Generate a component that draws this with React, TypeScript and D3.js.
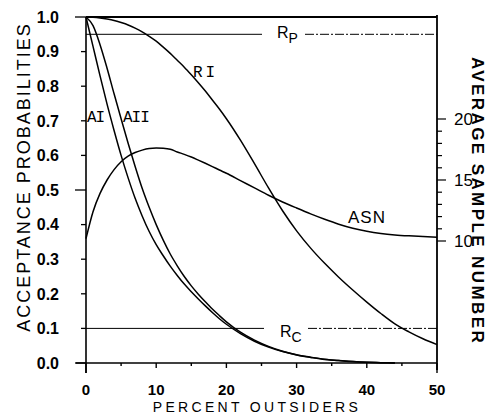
import React, { useRef, useEffect } from "react";
import * as d3 from "d3";

// percent outsiders (x) shared by all curves
const pctGrid = [
  0, 1, 2, 3, 4, 5, 6, 7, 8, 9, 10, 11, 12, 13, 14, 15, 16, 17, 18, 19, 20,
  22, 24, 26, 28, 30, 32, 34, 36, 38, 40, 42, 44, 46, 48, 50,
];

// acceptance probabilities
const riProb = [
  1.0, 0.999, 0.997, 0.994, 0.99, 0.984, 0.977, 0.968, 0.957, 0.944, 0.93,
  0.913, 0.895, 0.875, 0.855, 0.833, 0.81, 0.786, 0.76, 0.734, 0.706, 0.644,
  0.576, 0.506, 0.44, 0.382, 0.332, 0.288, 0.248, 0.211, 0.176, 0.143, 0.113,
  0.09, 0.07, 0.053,
];
const aiProb = [
  1.0, 0.915, 0.83, 0.748, 0.672, 0.6, 0.535, 0.476, 0.425, 0.38, 0.342, 0.31,
  0.28, 0.253, 0.228, 0.206, 0.185, 0.165, 0.146, 0.128, 0.112, 0.085, 0.063,
  0.046, 0.033, 0.023, 0.016, 0.01, 0.007, 0.004, 0.002, 0.001, 0.0,
];
const aiiProb = [
  1.0, 0.975, 0.92, 0.852, 0.778, 0.706, 0.635, 0.568, 0.505, 0.45, 0.4, 0.355,
  0.315, 0.281, 0.25, 0.223, 0.199, 0.177, 0.156, 0.137, 0.119, 0.089, 0.066,
  0.048, 0.034, 0.024, 0.017, 0.011, 0.007, 0.004, 0.002, 0.001, 0.0,
];

// average sample number (right axis)
const asnValues = [
  10.2, 12.4, 13.9, 15.0, 15.85, 16.5, 16.95, 17.25, 17.45, 17.58, 17.62, 17.6,
  17.52, 17.3, 17.1, 16.88, 16.63, 16.37, 16.1, 15.82, 15.55, 14.95, 14.35,
  13.75, 13.2, 12.7, 12.22, 11.78, 11.38, 11.05, 10.8, 10.62, 10.5, 10.42,
  10.36, 10.3,
];

const rpLevel = 0.95;
const rcLevel = 0.1;

const xTicks = [0, 10, 20, 30, 40, 50];
const xMinorTicks = [0, 5, 10, 15, 20, 25, 30, 35, 40, 45, 50];
const probTicks = [0, 0.1, 0.2, 0.3, 0.4, 0.5, 0.6, 0.7, 0.8, 0.9, 1.0];
const asnTicks = [10, 15, 20];
const asnMinorTicks = [10, 11, 12, 13, 14, 15, 16, 17, 18, 19, 20];

export default function App() {
  const svgRef = useRef<SVGSVGElement | null>(null);

  useEffect(() => {
    const svg = d3.select(svgRef.current);
    svg.selectAll("*").remove();

    const left = 86;
    const right = 437;
    const top = 17;
    const bottom = 363;

    const x = d3.scaleLinear().domain([0, 50]).range([left, right]);
    const y = d3.scaleLinear().domain([0, 1]).range([bottom, top]);
    const yAsn = d3.scaleLinear().domain([0, 28.36]).range([bottom, top]);

    const g = svg.append("g").attr("stroke", "#000").attr("fill", "none");

    // frame
    g.append("line").attr("x1", left).attr("x2", left).attr("y1", top).attr("y2", bottom + 10).attr("stroke-width", 1.6);
    g.append("line").attr("x1", left - 10).attr("x2", right).attr("y1", bottom).attr("y2", bottom).attr("stroke-width", 1.6);
    g.append("line").attr("x1", left).attr("x2", right).attr("y1", top).attr("y2", top).attr("stroke-width", 2);
    g.append("line").attr("x1", right).attr("x2", right).attr("y1", top - 2).attr("y2", bottom + 7).attr("stroke-width", 1.8);

    // left ticks
    probTicks.forEach((v) => {
      const major = v === 0 || v === 0.5 || v === 1;
      g.append("line")
        .attr("x1", left - (major ? 11 : 5))
        .attr("x2", left)
        .attr("y1", y(v))
        .attr("y2", y(v))
        .attr("stroke-width", 1.3);
    });

    // bottom ticks
    xMinorTicks.forEach((v) => {
      const len = v === 0 || v === 50 ? 10 : v % 10 === 0 ? 5 : 3;
      g.append("line")
        .attr("x1", x(v))
        .attr("x2", x(v))
        .attr("y1", bottom)
        .attr("y2", bottom + len)
        .attr("stroke-width", 1.4);
    });

    // right ticks (ASN)
    asnMinorTicks.forEach((v) => {
      const major = asnTicks.includes(v);
      g.append("line")
        .attr("x1", right)
        .attr("x2", right + (major ? 9 : 5))
        .attr("y1", yAsn(v))
        .attr("y2", yAsn(v))
        .attr("stroke-width", 1.2);
    });

    // reference lines
    const refLine = (level: number, gapStart: number, gapEnd: number) => {
      g.append("line")
        .attr("x1", left)
        .attr("x2", gapStart)
        .attr("y1", y(level))
        .attr("y2", y(level))
        .attr("stroke-width", 1);
      g.append("line")
        .attr("x1", gapEnd)
        .attr("x2", right)
        .attr("y1", y(level))
        .attr("y2", y(level))
        .attr("stroke-width", 1)
        .attr("stroke-dasharray", "9 2 2 2");
    };
    refLine(rpLevel, 262, 305);
    refLine(rcLevel, 264, 308);

    // curves
    const line = d3
      .line<[number, number]>()
      .x((d) => x(d[0]))
      .y((d) => y(d[1]))
      .curve(d3.curveMonotoneX);
    const asnLine = d3
      .line<[number, number]>()
      .x((d) => x(d[0]))
      .y((d) => yAsn(d[1]))
      .curve(d3.curveMonotoneX);

    const pairs = (vals: number[]) =>
      vals.map((v, i) => [pctGrid[i], v] as [number, number]);

    [riProb, aiProb, aiiProb].forEach((vals) => {
      g.append("path").attr("d", line(pairs(vals))).attr("stroke-width", 1.5);
    });
    g.append("path").attr("d", asnLine(pairs(asnValues))).attr("stroke-width", 1.5);

    // tick labels
    const t = svg.append("g").attr("fill", "#000");
    probTicks.forEach((v) => {
      t.append("text")
        .attr("x", 59)
        .attr("y", y(v))
        .attr("dy", "0.36em")
        .attr("text-anchor", "end")
        .style("font", "bold 16px 'Liberation Sans', Arial, sans-serif")
        .text(v.toFixed(1));
    });
    xTicks.forEach((v) => {
      t.append("text")
        .attr("x", x(v))
        .attr("y", 395)
        .attr("text-anchor", "middle")
        .style("font", "bold 15px 'Liberation Sans', Arial, sans-serif")
        .text(v);
    });
    asnTicks.forEach((v) => {
      t.append("text")
        .attr("x", 454)
        .attr("y", yAsn(v))
        .attr("dy", "0.36em")
        .style("font", "17px 'Liberation Sans', Arial, sans-serif")
        .text(v);
    });

    // axis titles
    t.append("text")
      .attr("x", 257)
      .attr("y", 412)
      .attr("text-anchor", "middle")
      .style("font", "14px 'Liberation Sans', Arial, sans-serif")
      .style("letter-spacing", "3.3px")
      .text("PERCENT OUTSIDERS");
    t.append("text")
      .attr("transform", "translate(30,177) rotate(-90)")
      .attr("text-anchor", "middle")
      .style("font", "18px 'Liberation Sans', Arial, sans-serif")
      .style("letter-spacing", "2px")
      .text("ACCEPTANCE PROBABILITIES");
    t.append("text")
      .attr("transform", "translate(472,201) rotate(90)")
      .attr("text-anchor", "middle")
      .style("font", "bold 17px 'Liberation Sans', Arial, sans-serif")
      .style("letter-spacing", "2.4px")
      .text("AVERAGE SAMPLE NUMBER");

    // curve labels
    const mono = "16px 'Liberation Mono', 'DejaVu Sans Mono', monospace";
    t.append("text").attr("x", 193).attr("y", 77).style("font", mono).style("letter-spacing", "3px").text("RI");
    t.append("text").attr("x", 87).attr("y", 122).style("font", mono).style("letter-spacing", "-1px").text("AI");
    t.append("text").attr("x", 123).attr("y", 122).style("font", mono).style("letter-spacing", "-1px").text("AII");
    t.append("text")
      .attr("x", 348)
      .attr("y", 223)
      .style("font", "17px 'Liberation Sans', Arial, sans-serif")
      .style("letter-spacing", "1px")
      .text("ASN");

    const sub = (xp: number, yp: number, main: string, s: string) => {
      const txt = t.append("text").attr("x", xp).attr("y", yp).style("font", "16px 'Liberation Sans', Arial, sans-serif");
      txt.append("tspan").text(main);
      txt.append("tspan").attr("dy", 5).style("font-size", "14px").text(s);
    };
    sub(277, 38, "R", "P");
    sub(280, 337, "R", "C");
  }, []);

  return (
    <svg
      ref={svgRef}
      width={494}
      height={416}
      style={{ position: "absolute", left: 0, top: 0, background: "#fff" }}
    />
  );
}
